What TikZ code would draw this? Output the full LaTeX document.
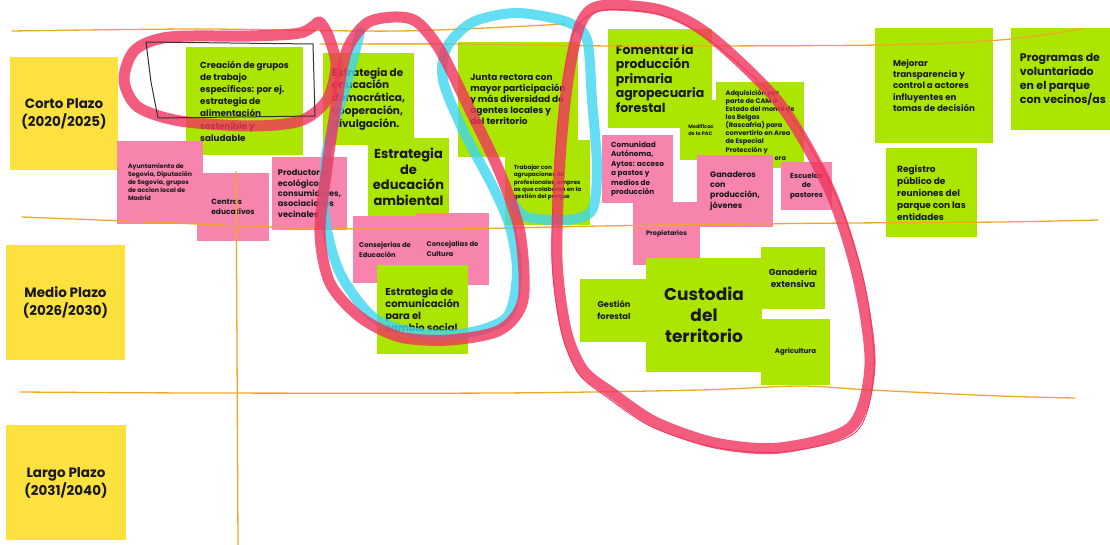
\documentclass[tikz,border=0pt]{standalone}
\usepackage{fontspec}
\setmainfont{Poppins}
\usepackage{xcolor}

\definecolor{postyellow}{RGB}{253,226,63}
\definecolor{postgreen}{RGB}{172,230,0}
\definecolor{postpink}{RGB}{246,132,172}
\definecolor{inkred}{RGB}{240,52,92}
\definecolor{inkcyan}{RGB}{62,214,240}
\definecolor{pencil}{RGB}{240,168,40}
\definecolor{textdark}{RGB}{25,25,25}

\newcommand{\fsz}[2]{\fontsize{#1}{#2}\selectfont}

\tikzset{
  postit/.style={inner sep=3pt, text=textdark, align=left},
  yellownote/.style={postit, fill=postyellow, align=center},
  greennote/.style={postit, fill=postgreen},
  pinknote/.style={postit, fill=postpink},
  pencilline/.style={pencil, line width=1.3pt, line cap=round},
  marker/.style={line width=11pt, line cap=round, line join=round, opacity=0.8}
}

\begin{document}
\begin{tikzpicture}[x=1pt,y=-1pt]

\useasboundingbox (0,0) rectangle (1110,545);
\clip (0,0) rectangle (1110,545);
\fill[white] (0,0) rectangle (1110,545);

% plazos
\node[yellownote, minimum width=108pt, minimum height=113pt, font=\bfseries\fsz{13.5}{18}] (corto) at (64,113.5) {Corto Plazo\\(2020/2025)};
\node[yellownote, minimum width=119pt, minimum height=115pt, font=\bfseries\fsz{13.5}{18}] (medio) at (65.5,302.5) {Medio Plazo\\(2026/2030)};
\node[yellownote, minimum width=120pt, minimum height=115pt, font=\bfseries\fsz{13.5}{18}] (largo) at (66,482.5) {Largo Plazo\\(2031/2040)};

% grupos y estrategias
\node[greennote, minimum width=117pt, minimum height=108pt, font=\bfseries\fsz{8.8}{12.2}] (creacion) at (244.5,101) {Creación de grupos\\de trabajo\\específicos: por ej.\\estrategia de\\alimentación\\sostenible y\\saludable};
\node[pinknote, minimum width=86pt, minimum height=83pt, font=\bfseries\fsz{6.2}{8}] (ayto) at (160,182.5) {Ayuntamiento de\\Segovia, Diputación\\de Segovia, grupos\\de accion local de\\Madrid};
\node[pinknote, minimum width=72pt, minimum height=68pt, font=\bfseries\fsz{7.5}{10}] (centros) at (233,207) {Centros\\educativos};
\node[pinknote, minimum width=75pt, minimum height=73pt, font=\bfseries\fsz{8.2}{10.3}] (productores) at (309.5,193.5) {Productores\\ecológicos,\\consumidores,\\asociaciones\\vecinales};
\node[greennote, minimum width=91pt, minimum height=92pt, font=\bfseries\fsz{10.5}{12.8}] (democratica) at (368.5,99) {Estrategia de\\educación\\democrática,\\cooperación,\\divulgación.};
\node[greennote, minimum width=81pt, minimum height=78pt, align=center, font=\bfseries\fsz{13}{15.5}] (ambiental) at (408.5,177) {Estrategia\\de\\educación\\ambiental};
\node[pinknote, minimum width=64pt, minimum height=67pt, font=\bfseries\fsz{6.8}{10}] (consejerias) at (385,249.5) {Consejerias de\\Educación};
\node[pinknote, minimum width=73pt, minimum height=72pt, font=\bfseries\fsz{6.8}{10}] (concejalias) at (452.5,249) {Concejalias de\\Cultura};
\node[greennote, minimum width=91pt, minimum height=89pt, font=\bfseries\fsz{10}{12.2}] (comunicacion) at (422.5,309.5) {Estrategia de\\comunicación\\para el\\cambio social};
\node[greennote, minimum width=120pt, minimum height=115pt, font=\bfseries\fsz{9}{11}] (junta) at (518,99.5) {Junta rectora con\\mayor participación\\y más diversidad de\\agentes locales y\\del territorio};
\node[greennote, minimum width=85pt, minimum height=85pt, font=\bfseries\fsz{5.8}{7.4}] (trabajar) at (547.5,182.5) {Trabajar con\\agrupaciones de\\profesionales, empres\\as que colaboran en la\\gestión del parque};

% territorio
\node[greennote, minimum width=104pt, minimum height=99pt, font=\bfseries\fsz{12.5}{14.5}] (fomentar) at (660,78.5) {Fomentar la\\producción\\primaria\\agropecuaria\\forestal};
\node[greennote, minimum width=42pt, minimum height=60pt, font=\bfseries\fsz{5}{6.8}] (pac) at (701,130) {Modificac\\de la PAC};
\node[greennote, minimum width=88pt, minimum height=86pt, font=\bfseries\fsz{6.6}{8.1}] (adquisicion) at (760,125) {Adquisición por\\parte de CAM o\\Estado del monte de\\los Belgas\\(Rascafría) para\\convertirlo en Area\\de Especial\\Protección y\\\hspace*{49pt}era};
\node[pinknote, minimum width=71pt, minimum height=68pt, font=\bfseries\fsz{7.3}{9.4}] (comunidad) at (637.5,169) {Comunidad\\Autónoma,\\Aytos: acceso\\a pastos y\\medios de\\producción};
\node[pinknote, minimum width=67pt, minimum height=63pt, font=\bfseries\fsz{6.5}{9}] (propietarios) at (666.5,233.5) {Propietarios};
\node[pinknote, minimum width=76pt, minimum height=72pt, font=\bfseries\fsz{8}{10.2}] (ganaderos) at (735,191) {Ganaderos\\con\\producción,\\jóvenes};
\node[pinknote, minimum width=51pt, minimum height=48pt, align=center, font=\bfseries\fsz{7.2}{9.5}] (escuelas) at (806.5,186) {Escuelas\\de\\pastores};
\node[greennote, minimum width=68pt, minimum height=63pt, align=center, font=\bfseries\fsz{8.3}{12}] (gestion) at (614,310.5) {Gestión\\forestal};
\node[greennote, minimum width=116pt, minimum height=114pt, align=center, font=\bfseries\fsz{17}{21}] (custodia) at (704,315) {Custodia\\del\\territorio};
\node[greennote, minimum width=64pt, minimum height=62pt, align=center, font=\bfseries\fsz{8.8}{12}] (ganaderia) at (793,278) {Ganaderia\\extensiva};
\node[greennote, minimum width=69pt, minimum height=66pt, align=center, font=\bfseries\fsz{7}{9}] (agricultura) at (795.5,352) {Agricultura};

% gobernanza
\node[greennote, minimum width=118pt, minimum height=115pt, font=\bfseries\fsz{8.7}{11.3}] (mejorar) at (934,85.5) {Mejorar\\transparencia y\\control a actores\\influyentes en\\tomas de decisión};
\node[greennote, minimum width=104pt, minimum height=102pt, font=\bfseries\fsz{11}{14}] (programas) at (1063,79) {Programas de\\voluntariado\\en el parque\\con vecinos/as};
\node[greennote, minimum width=91pt, minimum height=89pt, font=\bfseries\fsz{9}{12}] (registro) at (931.5,192.5) {Registro\\público de\\reuniones del\\parque con las\\entidades};

% lineas a lapiz
\draw[pencilline] plot[smooth] coordinates {(12,31) (200,29) (400,31) (565,24)};
\draw[pencilline] plot[smooth] coordinates {(320,44) (460,44) (620,46) (880,45) (1000,40) (1082,29)};
\draw[pencilline] plot[smooth] coordinates {(22,217) (150,222) (300,228) (450,229) (600,226) (750,224) (850,223) (1000,222) (1098,220)};
\draw[pencilline] plot[smooth] coordinates {(20,392) (200,393) (500,393) (700,390) (800,386) (870,390) (1000,396) (1075,398)};
\draw[pencilline] plot[smooth] coordinates {(236,172) (237,350) (238,545)};

% rotulador
\draw[marker, inkcyan, line width=10pt] plot[smooth] coordinates {(360,32) (347,83) (327,150) (325,217) (340,273) (373,317) (417,333) (467,333) (507,317) (517,273) (510,227) (493,187) (463,130) (443,80) (447,47) (473,22) (517,13) (567,22) (587,40) (592,100) (597,167) (592,210) (567,220) (527,217) (513,203)};
\draw[marker, inkred] plot[smooth] coordinates {(318,22) (300,33) (250,36) (170,37) (135,50) (124,80) (138,107) (180,121) (250,126) (300,121) (327,100) (336,65) (328,35) (320,22)};
\draw[marker, inkred] plot[smooth cycle] coordinates {(367,23) (347,50) (337,100) (327,167) (320,233) (330,283) (360,317) (400,337) (450,340) (500,330) (523,300) (520,233) (500,173) (470,110) (440,50) (417,22) (395,17)};
\draw[marker, inkred] plot[smooth cycle] coordinates {(600,6) (660,10) (709,35) (780,104) (830,191) (858,278) (870,365) (851,427) (780,448) (715,443) (655,422) (612,393) (583,370) (566,330) (557,260) (560,160) (568,80) (580,25)};
\draw[inkred, line width=0.8pt] plot[smooth cycle] coordinates {(604,10) (662,15) (712,42) (786,110) (836,196) (864,282) (874,368) (856,432) (782,452) (713,447) (652,427) (608,398) (578,373) (561,330) (552,260) (555,160) (563,80) (576,28)};

% recuadro a mano
\draw[black!80, line width=1pt, line join=round] (146,42) -- (313,44) -- (315,116) -- (158,118) -- (151,82) -- cycle;

\end{tikzpicture}
\end{document}
